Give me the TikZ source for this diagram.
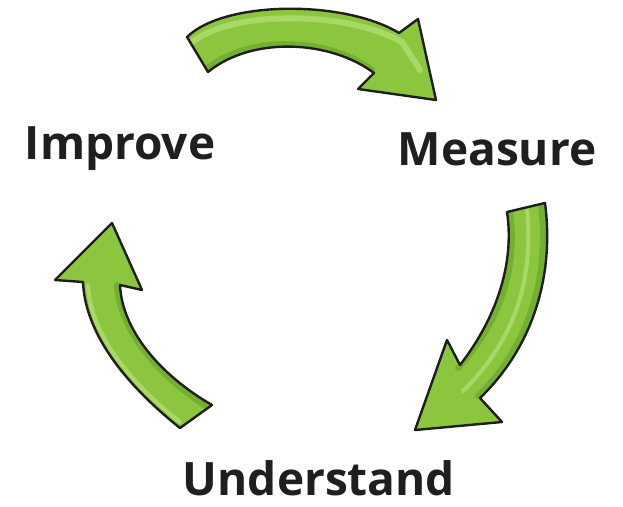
\documentclass[tikz,border=0pt]{standalone}
\usepackage{fontspec}
\setmainfont{Open Sans}
\definecolor{arrowgreen}{HTML}{8CC63F}
\definecolor{arrowdark}{HTML}{74B030}
\definecolor{arrowlight}{HTML}{A8D865}
\definecolor{outline}{HTML}{1E1E1E}
\definecolor{labeltext}{HTML}{1F1F1F}
\newcommand\toparrowpath{(187,37) .. controls (225,0) and (345,0) .. (399,33)
  -- (418,19) -- (436,100) -- (358,89) -- (374,73)
  .. controls (330,40) and (252,36) .. (208,72) -- cycle}
\newcommand\rightarrowpath{(507,212) -- (545,203)
  .. controls (555,280) and (530,350) .. (480,398)
  -- (502,422) -- (415,430) -- (447,340) -- (460,365)
  .. controls (495,320) and (515,265) .. (507,212) -- cycle}
\newcommand\leftarrowpath{(180,428)
  .. controls (120,380) and (85,330) .. (83,282)
  -- (55,280) -- (112,223) -- (142,290) -- (120,285)
  .. controls (122,330) and (160,375) .. (212,405) -- cycle}
\begin{document}
\begin{tikzpicture}[x=1pt,y=-1pt,
  arrowfill/.style={fill=arrowgreen},
  arrowline/.style={draw=outline,line width=2.4pt,line join=round},
  lightband/.style={draw=arrowlight,line width=6pt,line cap=round},
  darkband/.style={draw=arrowdark,line width=6pt,line cap=round},
  steplabel/.style={font=\fontsize{46}{50}\selectfont\bfseries,text=labeltext,inner sep=0pt}]
\useasboundingbox (0,0) rectangle (623,506);
\fill[white] (0,0) rectangle (623,506);
% labels
\node[steplabel] (improve) at (120,149) {Improve};
\node[steplabel] (measure) at (497,149) {Measure};
\node[steplabel] (understand) at (319,478) {Understand};
% top arrow (Improve -> Measure)
\fill[arrowfill] \toparrowpath;
\begin{scope}
  \clip \toparrowpath;
  \draw[lightband] (190,44) .. controls (228,10) and (345,10) .. (402,42) -- (420,70);
  \draw[darkband] (205,70) .. controls (250,33) and (330,38) .. (372,70);
\end{scope}
\draw[arrowline] \toparrowpath;
% right arrow (Measure -> Understand)
\fill[arrowfill] \rightarrowpath;
\begin{scope}
  \clip \rightarrowpath;
  \draw[darkband] (510,212) .. controls (518,268) and (500,322) .. (458,368);
  \draw[darkband] (541,205) .. controls (550,280) and (527,348) .. (478,396);
  \draw[draw=arrowlight,line width=4pt] (527,208) .. controls (534,280) and (515,340) .. (462,392);
\end{scope}
\draw[arrowline] \rightarrowpath;
% left arrow (Understand -> Improve)
\fill[arrowfill] \leftarrowpath;
\begin{scope}
  \clip \leftarrowpath;
  \draw[darkband] (212,410) .. controls (160,378) and (120,332) .. (117,285);
  \draw[lightband,line width=4pt] (180,422) .. controls (124,378) and (90,330) .. (88,285);
\end{scope}
\draw[arrowline] \leftarrowpath;
\end{tikzpicture}
\end{document}
